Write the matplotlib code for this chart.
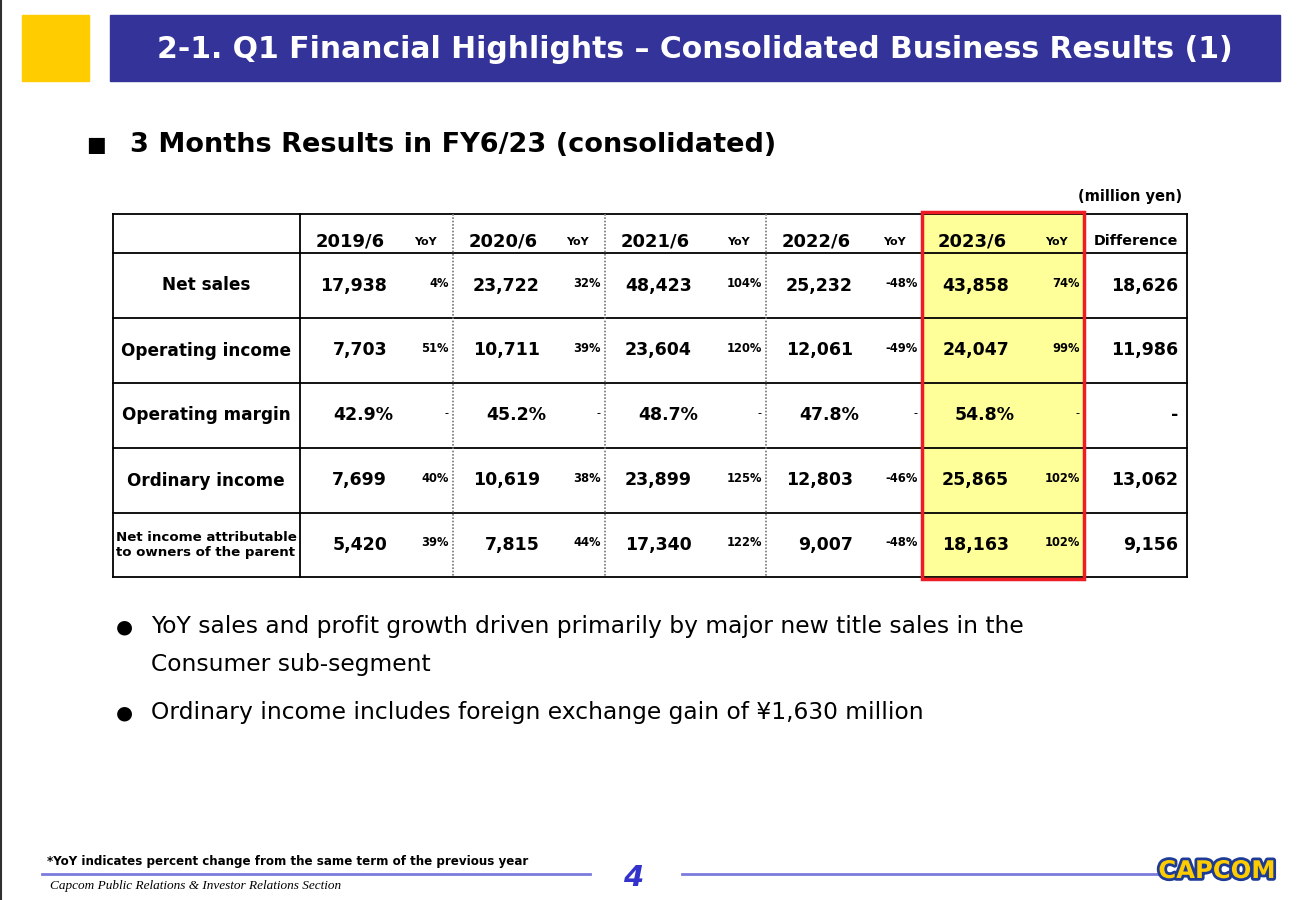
import matplotlib
matplotlib.use("Agg")
import matplotlib.pyplot as plt
import matplotlib.patheffects as pe
from matplotlib.patches import Rectangle

# data
years = ["2019/6", "2020/6", "2021/6", "2022/6", "2023/6"]
row_labels = ["Net sales", "Operating income", "Operating margin", "Ordinary income",
              "Net income attributable\nto owners of the parent"]
net_sales = ["17,938", "23,722", "48,423", "25,232", "43,858"]
net_sales_yoy = ["4%", "32%", "104%", "-48%", "74%"]
op_income = ["7,703", "10,711", "23,604", "12,061", "24,047"]
op_income_yoy = ["51%", "39%", "120%", "-49%", "99%"]
op_margin = ["42.9%", "45.2%", "48.7%", "47.8%", "54.8%"]
op_margin_yoy = ["-", "-", "-", "-", "-"]
ord_income = ["7,699", "10,619", "23,899", "12,803", "25,865"]
ord_income_yoy = ["40%", "38%", "125%", "-46%", "102%"]
net_income = ["5,420", "7,815", "17,340", "9,007", "18,163"]
net_income_yoy = ["39%", "44%", "122%", "-48%", "102%"]
difference = ["18,626", "11,986", "-", "13,062", "9,156"]

values = [net_sales, op_income, op_margin, ord_income, net_income]
yoys = [net_sales_yoy, op_income_yoy, op_margin_yoy, ord_income_yoy, net_income_yoy]

bullets = [["YoY sales and profit growth driven primarily by major new title sales in the",
            "Consumer sub-segment"],
           ["Ordinary income includes foreign exchange gain of ¥1,630 million"]]

plt.rcParams['font.family'] = ['DejaVu Sans']

fig = plt.figure(figsize=(13, 9), dpi=100)
ax = fig.add_axes([0, 0, 1, 1])
ax.set_xlim(0, 1300)
ax.set_ylim(900, 0)
ax.axis('off')

# slide border on the left
ax.plot([1, 1], [0, 900], color='#303030', lw=1.5)

# header
ax.add_patch(Rectangle((22, 15), 67, 66, color='#FFCC00'))
ax.add_patch(Rectangle((110, 15), 1170, 66, color='#333399'))
ax.text(695, 49, "2-1. Q1 Financial Highlights – Consolidated Business Results (1)",
        color='white', fontsize=21.5, fontweight='bold', ha='center', va='center')

ax.text(86, 145, "■", fontsize=15, ha='left', va='center')
ax.text(130, 145, "3 Months Results in FY6/23 (consolidated)", fontsize=19.5,
        fontweight='bold', ha='left', va='center')
ax.text(1182, 196, "(million yen)", fontsize=10.5, fontweight='bold', ha='right', va='center')

# table geometry
col_x = [113, 300, 453, 605, 766, 922, 1084, 1187]
row_y = [214, 253, 318, 383, 448, 513, 577]

# highlight column
ax.add_patch(Rectangle((col_x[5], row_y[0]), col_x[6] - col_x[5], row_y[-1] - row_y[0],
                       color='#FFFF99', zorder=0))

for y in row_y:
    ax.plot([col_x[0], col_x[-1]], [y, y], color='black', lw=1.3, zorder=2)
for i, x in enumerate(col_x):
    if i in (2, 3, 4):
        ax.plot([x, x], [row_y[0], row_y[-1]], color='#777777', lw=1.2, ls=(0, (1, 1)), zorder=2)
    else:
        ax.plot([x, x], [row_y[0], row_y[-1]], color='black', lw=1.3, zorder=2)
ax.add_patch(Rectangle((col_x[5], row_y[0] - 2), col_x[6] - col_x[5], row_y[-1] - row_y[0] + 4,
                       fill=False, edgecolor='#EE1C25', lw=2.5, zorder=3))

# header row
hy = 241
for j, yr in enumerate(years):
    ax.text(col_x[j + 1] + 50, hy, yr, fontsize=13, fontweight='bold', ha='center', va='center')
    ax.text(col_x[j + 2] - 28, hy + 1, "YoY", fontsize=8, fontweight='bold', ha='center', va='center')
ax.text(col_x[-1] - 9, hy, "Difference", fontsize=10.3, fontweight='bold', ha='right', va='center')

# body
val_right = [387, 540, 692, 853, 1009]
for i, lab in enumerate(row_labels):
    cy = (row_y[i + 1] + row_y[i + 2]) / 2
    if "\n" in lab:
        ax.text(206, cy, lab, fontsize=9.6, fontweight='bold', ha='center', va='center', linespacing=1.25)
    else:
        ax.text(206, cy, lab, fontsize=12.2, fontweight='bold', ha='center', va='center')
    for j in range(5):
        r = val_right[j] + (6 if i == 2 else 0)
        ax.text(r, cy, values[i][j], fontsize=12.5, fontweight='bold', ha='right', va='center')
        ax.text(col_x[j + 2] - 4, cy - 2, yoys[i][j], fontsize=8.3,
                fontweight='bold' if yoys[i][j] != '-' else 'normal', ha='right', va='center')
    ax.text(1178, cy, difference[i], fontsize=12.5, fontweight='bold', ha='right', va='center')

# bullets
line_y = [[627, 665], [713]]
for ys, lines in zip(line_y, bullets):
    ax.text(124, ys[0], "●", fontsize=14, ha='center', va='center')
    for y, t in zip(ys, lines):
        ax.text(151, y, t, fontsize=16.8, ha='left', va='center')

# footer
ax.text(47, 862, "*YoY indicates percent change from the same term of the previous year",
        fontsize=8.6, fontweight='bold', ha='left', va='center')
ax.plot([42, 590], [874, 874], color='#7B7BDD', lw=2)
ax.plot([682, 1160], [874, 874], color='#7B7BDD', lw=2)
ax.text(50, 886, "Capcom Public Relations & Investor Relations Section", fontsize=9.5,
        family='Liberation Serif', style='italic', ha='left', va='center')
ax.text(633, 878, "4", fontsize=21, fontweight='bold', style='italic', color='#3333CC',
        ha='center', va='center')
ax.text(1217, 871, "CAPCOM", fontsize=17.5, fontweight='bold', color='#FFCC00', ha='center', va='center',
        path_effects=[pe.withStroke(linewidth=4, foreground='#1E3C96')])

fig.savefig("out.png", dpi=100)
